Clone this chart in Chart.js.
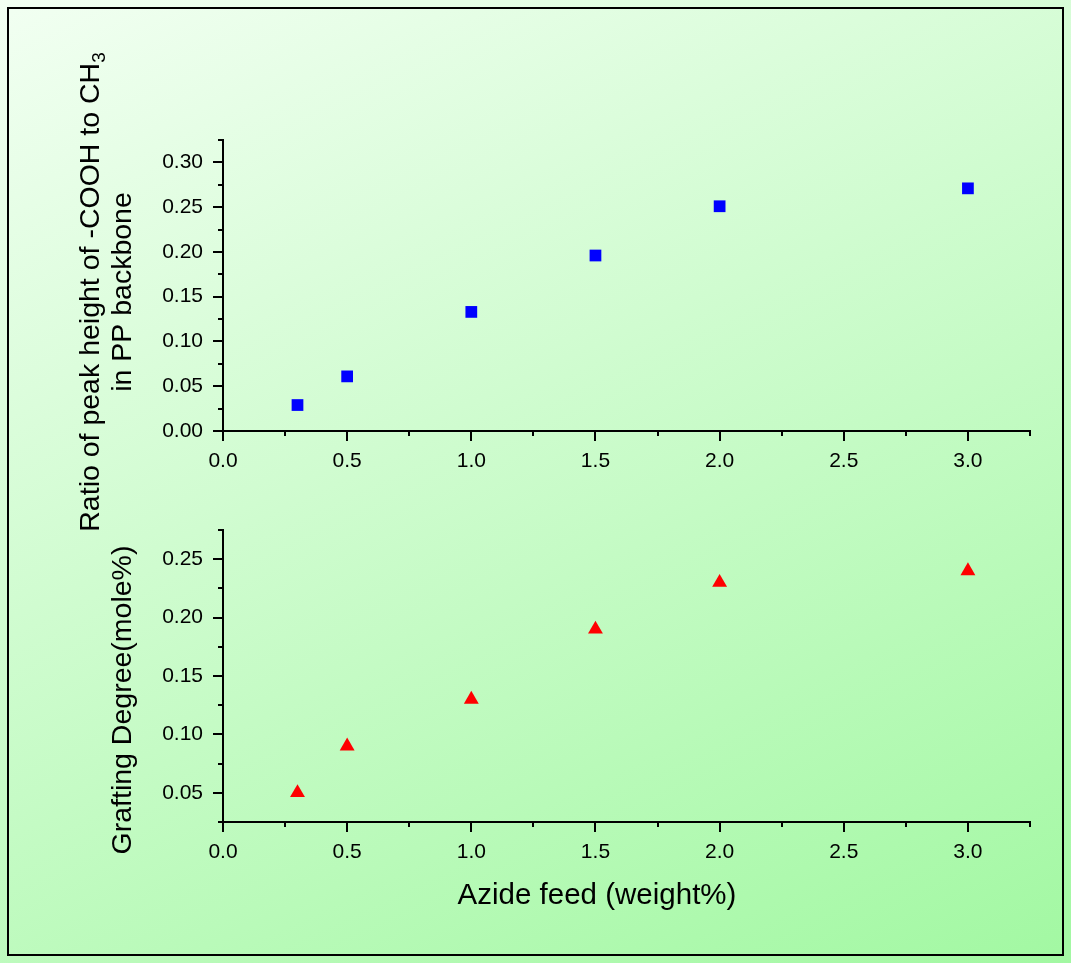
<!DOCTYPE html>
<html><head><meta charset="utf-8">
<script src="https://cdn.jsdelivr.net/npm/chart.js@4.4.1/dist/chart.umd.min.js"></script>
<style>
html,body{margin:0;padding:0;width:1071px;height:963px;overflow:hidden;}
body{background:linear-gradient(155deg,#f2fff2 0%,#a2f8a2 100%);position:relative;}
#frame{position:absolute;left:7px;top:7px;width:1057px;height:949px;border:2px solid #000;box-sizing:border-box;}
canvas{position:absolute;left:0;top:0;}
</style></head><body>
<div id="frame"></div>
<canvas id="c1" width="1071" height="963"></canvas>
<canvas id="c2" width="1071" height="963"></canvas>
<script>
// ---- data ----
const azideFeed = [0.3, 0.5, 1.0, 1.5, 2.0, 3.0];
const peakRatio = [0.029, 0.061, 0.133, 0.196, 0.251, 0.271];
const graftingDegree = [0.05, 0.09, 0.13, 0.19, 0.23, 0.24];

const xTicks = [0, 0.5, 1.0, 1.5, 2.0, 2.5, 3.0];
const xTickLabels = ['0.0', '0.5', '1.0', '1.5', '2.0', '2.5', '3.0'];
const xMinorTicks = [0.25, 0.75, 1.25, 1.75, 2.25, 2.75, 3.25];

const topYTicks = [0, 0.05, 0.10, 0.15, 0.20, 0.25, 0.30];
const topYTickLabels = ['0.00', '0.05', '0.10', '0.15', '0.20', '0.25', '0.30'];
const topYMinorTicks = [0.025, 0.075, 0.125, 0.175, 0.225, 0.275, 0.325];

const botYTicks = [0.05, 0.10, 0.15, 0.20, 0.25];
const botYTickLabels = ['0.05', '0.10', '0.15', '0.20', '0.25'];
const botYMinorTicks = [0.025, 0.075, 0.125, 0.175, 0.225, 0.275];

const FONT = '"Liberation Sans", Arial, sans-serif';

function pts(xs, ys) { return xs.map((x, i) => ({ x: x, y: ys[i] })); }

const minorTickPlugin = {
  id: 'minorTicks',
  afterDraw(chart, args, opts) {
    const ctx = chart.ctx;
    const xs = chart.scales.x, ys = chart.scales.y;
    ctx.save();
    ctx.strokeStyle = '#000';
    ctx.lineWidth = 2;
    ctx.beginPath();
    (opts.x || []).forEach(v => {
      const p = Math.round(xs.getPixelForValue(v));
      ctx.moveTo(p, xs.top);
      ctx.lineTo(p, xs.top + 5);
    });
    (opts.y || []).forEach(v => {
      const p = Math.round(ys.getPixelForValue(v));
      ctx.moveTo(ys.right - 5, p);
      ctx.lineTo(ys.right, p);
    });
    ctx.stroke();
    ctx.restore();
  }
};

const titlePlugin = {
  id: 'titles',
  afterDraw(chart, args, opts) {
    const ctx = chart.ctx;
    ctx.save();
    ctx.fillStyle = '#000';
    (opts.items || []).forEach(it => {
      ctx.save();
      ctx.translate(it.x, it.y);
      if (it.rotate) ctx.rotate(-Math.PI / 2);
      ctx.textBaseline = 'alphabetic';
      ctx.font = it.size + 'px ' + FONT;
      const w1 = ctx.measureText(it.text).width;
      let w2 = 0;
      if (it.sub) { ctx.font = it.subSize + 'px ' + FONT; w2 = ctx.measureText(it.sub).width; }
      const start = -(w1 + w2) / 2;
      ctx.font = it.size + 'px ' + FONT;
      ctx.textAlign = 'left';
      ctx.fillText(it.text, start, 0);
      if (it.sub) {
        ctx.font = it.subSize + 'px ' + FONT;
        ctx.fillText(it.sub, start + w1, it.subShift);
      }
      ctx.restore();
    });
    ctx.restore();
  }
};

function axisX() {
  return {
    type: 'linear', position: 'bottom', min: 0, max: 3.25,
    afterBuildTicks: s => { s.ticks = xTicks.map(v => ({ value: v })); },
    afterFit: s => { s.height = 50; },
    ticks: {
      includeBounds: false,
      color: '#000', padding: 8,
      font: { family: FONT, size: 21 },
      callback: v => { const i = xTicks.findIndex(t => Math.abs(t - v) < 1e-9); return i >= 0 ? xTickLabels[i] : ''; },
      maxRotation: 0, autoSkip: false
    },
    grid: { display: true, drawOnChartArea: false, drawTicks: true, tickLength: 10, color: '#000', lineWidth: 2 },
    border: { display: true, color: '#000', width: 2 }
  };
}
function axisY(min, max, tv, tl) {
  return {
    type: 'linear', position: 'left', min: min, max: max,
    afterBuildTicks: s => { s.ticks = tv.map(v => ({ value: v })); },
    afterFit: s => { s.width = 60; },
    ticks: {
      includeBounds: false,
      color: '#000', padding: 10,
      font: { family: FONT, size: 21 },
      callback: v => { const i = tv.findIndex(t => Math.abs(t - v) < 1e-9); return i >= 0 ? tl[i] : ''; },
      autoSkip: false
    },
    grid: { display: true, drawOnChartArea: false, drawTicks: true, tickLength: 10, color: '#000', lineWidth: 2 },
    border: { display: true, color: '#000', width: 2 }
  };
}

const common = {
  responsive: false, animation: false, devicePixelRatio: 1,
  plugins: { legend: { display: false }, tooltip: { enabled: false } }
};

new Chart(document.getElementById('c1'), {
  type: 'scatter',
  data: { datasets: [{
    data: pts(azideFeed, peakRatio),
    pointStyle: 'rect', pointRadius: 8.3, backgroundColor: '#0000ff', borderColor: '#0000ff', borderWidth: 0
  }] },
  options: Object.assign({}, common, {
    layout: { padding: { left: 163, top: 140, right: 41, bottom: 963 - 431 - 50 } },
    scales: { x: axisX(), y: axisY(0, 0.325, topYTicks, topYTickLabels) },
    plugins: Object.assign({}, common.plugins, {
      minorTicks: { x: xMinorTicks, y: topYMinorTicks },
      titles: { items: [
        { text: 'Ratio of peak height of -COOH to CH', sub: '3', x: 99, y: 292, rotate: true, size: 28.5, subSize: 19, subShift: 6 },
        { text: 'in PP backbone', x: 131, y: 292, rotate: true, size: 28.5 }
      ] }
    })
  }),
  plugins: [minorTickPlugin, titlePlugin]
});

new Chart(document.getElementById('c2'), {
  type: 'scatter',
  data: { datasets: [{
    data: pts(azideFeed, graftingDegree),
    pointStyle: 'triangle', pointRadius: 8.6, backgroundColor: '#ff0000', borderColor: '#ff0000', borderWidth: 0
  }] },
  options: Object.assign({}, common, {
    layout: { padding: { left: 163, top: 530, right: 41, bottom: 963 - 822 - 50 } },
    scales: { x: axisX(), y: axisY(0.025, 0.275, botYTicks, botYTickLabels) },
    plugins: Object.assign({}, common.plugins, {
      minorTicks: { x: xMinorTicks, y: botYMinorTicks },
      titles: { items: [
        { text: 'Grafting Degree(mole%)', x: 131, y: 700, rotate: true, size: 28.5 },
        { text: 'Azide feed (weight%)', x: 597, y: 904, rotate: false, size: 29.5 }
      ] }
    })
  }),
  plugins: [minorTickPlugin, titlePlugin]
});
</script>
</body></html>
